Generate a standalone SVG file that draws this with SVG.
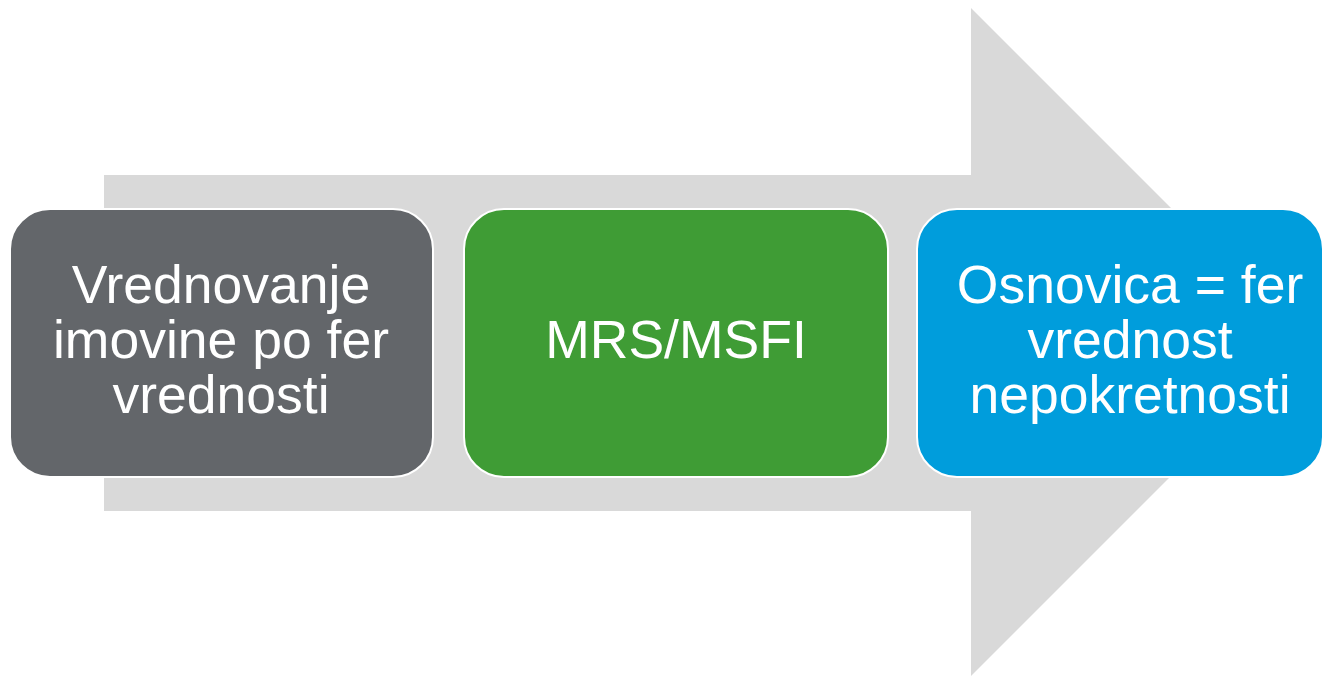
<svg xmlns="http://www.w3.org/2000/svg" width="1325" height="677" viewBox="0 0 1325 677">
<style>
.box{stroke:#ffffff;stroke-width:2}
.t{font-family:"Liberation Sans",Arial,sans-serif;font-size:53.5px;fill:#ffffff;text-anchor:middle}
</style>
<rect width="1325" height="677" fill="#ffffff"/>
<g id="connectors">
<polygon points="104,175 971,175 971,8 1305,342 971,676 971,511 104,511" fill="#d9d9d9"/>
</g>
<g id="node1">
<rect class="box" x="10" y="209" width="423" height="268" rx="40" fill="#63666a"/>
<text class="t" x="221" y="303">Vrednovanje</text>
<text class="t" x="221" y="358">imovine po fer</text>
<text class="t" x="221" y="413">vrednosti</text>
</g>
<g id="node2">
<rect class="box" x="464" y="209" width="424" height="268" rx="40" fill="#3f9c35"/>
<text class="t" x="676" y="358">MRS/MSFI</text>
</g>
<g id="node3">
<rect class="box" x="917" y="209" width="406" height="268" rx="40" fill="#009ddc"/>
<text class="t" x="1130" y="303">Osnovica = fer</text>
<text class="t" x="1130" y="358">vrednost</text>
<text class="t" x="1130" y="413">nepokretnosti</text>
</g>
</svg>
